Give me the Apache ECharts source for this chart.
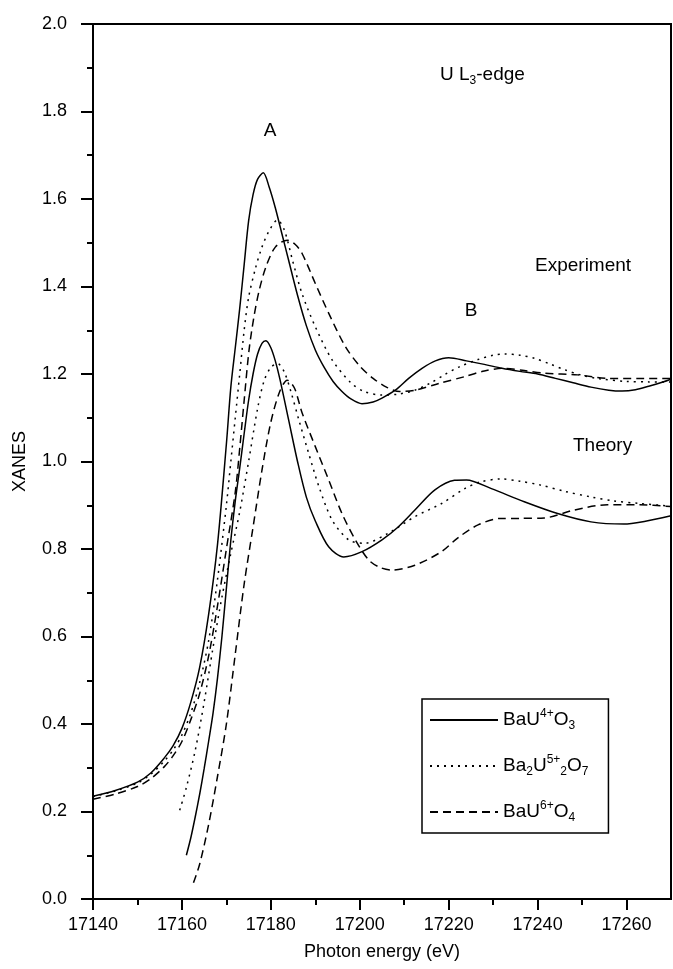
<!DOCTYPE html>
<html>
<head>
    <meta charset="utf-8">
    <title>U L3-edge XANES</title>
    <script src="https://cdn.jsdelivr.net/npm/echarts@6/dist/echarts.min.js"></script>
    <style>
        html, body { margin: 0; padding: 0; background: #fff; }
    </style>
</head>
<body>
<div id="main" style="width: 673px;height:969px;"></div>
<script type="text/javascript">
// tick values
var xMajorTicks = [17140, 17160, 17180, 17200, 17220, 17240, 17260];
var xMinorTicks = [17150, 17170, 17190, 17210, 17230, 17250];

// experiment curves [energy, xanes]
var expU4 = [[17140,0.235],[17145,0.248],[17150,0.267],[17153,0.288],[17156,0.322],[17158,0.35],[17160,0.39],[17162,0.45],[17164,0.53],[17166,0.65],[17168,0.81],[17170,1.04],[17171,1.17],[17172,1.26],[17173,1.35],[17174,1.45],[17175,1.55],[17176,1.61],[17177,1.645],[17178.3,1.66],[17179.6,1.628],[17181,1.58],[17182.5,1.52],[17184,1.46],[17186,1.38],[17188,1.31],[17190,1.255],[17192,1.215],[17194,1.183],[17196,1.16],[17198,1.143],[17200.5,1.132],[17203,1.136],[17205,1.145],[17208,1.163],[17211,1.19],[17214,1.213],[17217,1.23],[17220,1.237],[17224,1.23],[17228,1.222],[17232,1.213],[17236,1.206],[17240,1.2],[17244,1.19],[17248,1.18],[17252,1.17],[17256,1.163],[17259,1.161],[17262,1.164],[17265,1.172],[17268,1.181],[17270,1.188]];
var expU5 = [[17140,0.234],[17145,0.247],[17150,0.265],[17153,0.285],[17156,0.315],[17158,0.34],[17160,0.375],[17162,0.425],[17164,0.495],[17166,0.59],[17168,0.73],[17170,0.9],[17171,1.0],[17172,1.1],[17173,1.2],[17174,1.3],[17175,1.375],[17176.5,1.44],[17178,1.49],[17179.5,1.525],[17181.5,1.552],[17183,1.53],[17185,1.455],[17187,1.384],[17190,1.308],[17193.8,1.232],[17198,1.18],[17201,1.16],[17205,1.152],[17208.7,1.154],[17212.4,1.163],[17216,1.18],[17219,1.198],[17222.5,1.217],[17226.6,1.233],[17230,1.243],[17232.5,1.246],[17236,1.243],[17239.3,1.236],[17243,1.222],[17246,1.21],[17250,1.197],[17254,1.189],[17260,1.183],[17265,1.182],[17270,1.182]];
var expU6 = [[17140,0.228],[17145,0.24],[17150,0.257],[17153,0.275],[17156,0.302],[17158,0.327],[17160,0.36],[17162,0.41],[17164,0.47],[17166,0.555],[17168,0.67],[17170,0.8],[17172,0.93],[17173,1.03],[17174,1.14],[17175.1,1.255],[17176.2,1.331],[17177.4,1.392],[17178.9,1.445],[17181,1.49],[17183.7,1.506],[17185.5,1.496],[17187,1.476],[17190,1.407],[17193,1.339],[17196.8,1.262],[17200,1.218],[17203,1.19],[17206,1.17],[17209,1.16],[17212.4,1.163],[17218,1.179],[17223.6,1.194],[17228,1.207],[17232.5,1.213],[17237,1.208],[17241.5,1.202],[17249,1.198],[17256,1.19],[17263,1.19],[17270,1.19]];

// theory curves
var thU4 = [[17161,0.1],[17162,0.14],[17163,0.188],[17164,0.24],[17165,0.298],[17166,0.36],[17167,0.425],[17168,0.505],[17169,0.6],[17170,0.71],[17171,0.82],[17172,0.91],[17173,0.985],[17174,1.064],[17175,1.14],[17176,1.2],[17177,1.245],[17178,1.27],[17178.9,1.276],[17180,1.26],[17181,1.23],[17182,1.19],[17184,1.095],[17186,1.0],[17188,0.918],[17190,0.864],[17193,0.805],[17196.4,0.782],[17200.5,0.794],[17205,0.821],[17208.7,0.851],[17212.4,0.889],[17216.9,0.935],[17221.3,0.957],[17224,0.958],[17229.6,0.938],[17237,0.908],[17244.5,0.881],[17252,0.862],[17259.4,0.857],[17264,0.863],[17270,0.876]];
var thU5 = [[17159.5,0.203],[17161,0.255],[17163,0.34],[17165,0.45],[17167,0.575],[17169,0.69],[17171,0.79],[17173,0.885],[17175,1.0],[17177,1.12],[17178.5,1.185],[17180,1.215],[17181.5,1.224],[17183,1.205],[17184.5,1.16],[17186.3,1.095],[17188.5,1.019],[17190.8,0.943],[17193.8,0.866],[17197.5,0.821],[17201,0.813],[17206.4,0.836],[17212.4,0.874],[17218.4,0.904],[17223.6,0.938],[17227,0.953],[17231.8,0.96],[17236,0.955],[17240.7,0.946],[17246,0.932],[17252,0.919],[17257,0.91],[17263,0.904],[17270,0.898]];
var thU6 = [[17162.6,0.037],[17164,0.08],[17166,0.17],[17168,0.28],[17170,0.4],[17172,0.56],[17174,0.72],[17176,0.85],[17178,0.98],[17180,1.09],[17182,1.16],[17183.7,1.186],[17185.3,1.168],[17187,1.112],[17190,1.034],[17193,0.958],[17196,0.881],[17199,0.821],[17202,0.775],[17204.5,0.758],[17207.2,0.752],[17212.4,0.763],[17218.4,0.794],[17222,0.825],[17226.6,0.855],[17231.8,0.87],[17236,0.87],[17241.5,0.871],[17248.2,0.889],[17255.7,0.901],[17263,0.901],[17270,0.897]];

var names = ['BaU4+O3', 'Ba2U5+2O7', 'BaU6+O4'];
var legendText = {
    'BaU4+O3': '{n|BaU}{sup|4+}{n|O}{sub|3}',
    'Ba2U5+2O7': '{n|Ba}{sub|2}{n|U}{sup|5+}{sub|2}{n|O}{sub|7}',
    'BaU6+O4': '{n|BaU}{sup|6+}{n|O}{sub|4}'
};

var font = "'Liberation Sans', Arial, sans-serif";
var richStyles = {
    n: {fontSize: 19, lineHeight: 24, fontFamily: font, color: '#000'},
    sup: {fontSize: 12, lineHeight: 12, verticalAlign: 'top', fontFamily: font, color: '#000'},
    sub: {fontSize: 12, lineHeight: 8, verticalAlign: 'bottom', fontFamily: font, color: '#000'}
};
var dotted = [2, 5];
var dashed = [8, 5];

function makeLine(name, data, type) {
    return {
        name: name,
        type: 'line',
        data: data,
        symbol: 'none',
        smooth: 0.3,
        silent: true,
        itemStyle: {color: '#000'},
        lineStyle: {color: '#000', width: 1.5, type: type}
    };
}

var myChart = echarts.init(document.getElementById('main'));
myChart.setOption({
    animation: false,
    backgroundColor: '#fff',
    grid: {left: 93, right: 2, top: 24, bottom: 70, show: true, borderColor: '#000', borderWidth: 2},
    legend: {
        orient: 'vertical',
        left: 422,
        top: 699,
        data: names,
        itemWidth: 68,
        itemHeight: 14,
        itemGap: 22,
        padding: [9, 20, 9, 7],
        borderColor: '#000',
        borderWidth: 1.5,
        itemStyle: {opacity: 0},
        selectedMode: false,
        formatter: function (name) { return legendText[name]; },
        textStyle: {color: '#000', fontSize: 19, fontFamily: font, rich: richStyles}
    },
    xAxis: [{
        type: 'value',
        min: 17140,
        max: 17270,
        interval: 20,
        name: 'Photon energy (eV)',
        nameLocation: 'middle',
        nameGap: 44,
        nameTextStyle: {color: '#000', fontSize: 18, fontFamily: font},
        axisLine: {lineStyle: {color: '#000', width: 2}},
        axisTick: {length: 11, customValues: xMajorTicks, lineStyle: {color: '#000', width: 2}},
        axisLabel: {
            customValues: xMajorTicks, color: '#000', fontSize: 18, fontFamily: font, margin: 17,
            formatter: function (v) { return String(v); }
        },
        splitLine: {show: false}
    }, {
        type: 'value',
        min: 17140,
        max: 17270,
        interval: 20,
        position: 'bottom',
        axisLine: {show: false},
        axisTick: {length: 6, customValues: xMinorTicks, lineStyle: {color: '#000', width: 2}},
        axisLabel: {show: false},
        splitLine: {show: false}
    }],
    yAxis: {
        type: 'value',
        min: 0,
        max: 2,
        interval: 0.2,
        name: 'XANES',
        nameLocation: 'middle',
        nameGap: 64,
        nameTextStyle: {color: '#000', fontSize: 18, fontFamily: font},
        axisLine: {lineStyle: {color: '#000', width: 2}},
        axisTick: {length: 12, lineStyle: {color: '#000', width: 2}},
        minorTick: {show: true, splitNumber: 2, length: 6, lineStyle: {color: '#000', width: 2}},
        axisLabel: {
            color: '#000', fontSize: 18, fontFamily: font, margin: 26,
            formatter: function (v) { return v.toFixed(1); }
        },
        splitLine: {show: false},
        minorSplitLine: {show: false}
    },
    graphic: [
        {type: 'text', x: 440, y: 75, style: {text: '{n|U L}{sub|3}{n|-edge}', align: 'left', verticalAlign: 'middle', rich: {
            n: {fontSize: 19, lineHeight: 24, fontFamily: font, fill: '#000'},
            sub: {fontSize: 12, lineHeight: 8, verticalAlign: 'bottom', fontFamily: font, fill: '#000'}
        }}},
        {type: 'text', x: 270, y: 131, style: {text: 'A', font: '19px ' + font, fill: '#000', align: 'center', verticalAlign: 'middle'}},
        {type: 'text', x: 535, y: 266, style: {text: 'Experiment', font: '19px ' + font, fill: '#000', align: 'left', verticalAlign: 'middle'}},
        {type: 'text', x: 471, y: 311, style: {text: 'B', font: '19px ' + font, fill: '#000', align: 'center', verticalAlign: 'middle'}},
        {type: 'text', x: 573, y: 446, style: {text: 'Theory', font: '19px ' + font, fill: '#000', align: 'left', verticalAlign: 'middle'}}
    ],
    series: [
        makeLine(names[0], expU4, 'solid'),
        makeLine(names[1], expU5, dotted),
        makeLine(names[2], expU6, dashed),
        makeLine(names[0], thU4, 'solid'),
        makeLine(names[1], thU5, dotted),
        makeLine(names[2], thU6, dashed)
    ]
});
</script>
</body>
</html>
